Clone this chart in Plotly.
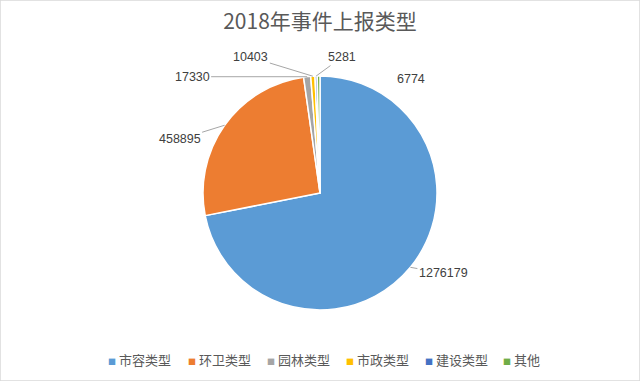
import math
import plotly.graph_objects as go

# ---- data ----
categories = ["市容类型", "环卫类型", "园林类型", "市政类型", "建设类型", "其他"]
values = [1276179, 458895, 17330, 10403, 5281, 6774]
title_text = "2018年事件上报类型"

# ---- style ----
colors = ["#5B9BD5", "#ED7D31", "#A5A5A5", "#FFC000", "#4472C4", "#70AD47"]
W, H = 640, 381
CX, CY, R = 320, 193, 117          # pie centre / radius in pixels
label_offsets = [(33, 6), (-45, 14), (-115, 0), (-62, -19), (26, -19), (92, -6)]
label_lines = [True, True, True, True, True, False]
legend_x = [106, 186, 265, 344, 423, 501]
legend_y = 359

fig = go.Figure(go.Pie(
    labels=categories, values=values, sort=False, direction="clockwise",
    rotation=0, textinfo="none", hoverinfo="label+value",
    marker=dict(colors=colors, line=dict(color="white", width=1.5)),
    domain=dict(x=[(CX - R) / W, (CX + R) / W], y=[1 - (CY + R) / H, 1 - (CY - R) / H]),
    showlegend=False,
))

annotations = []
total = sum(values)
cum = 0.0
for v, (ax, ay), line in zip(values, label_offsets, label_lines):
    mid = (cum + v / 2) / total * 2 * math.pi
    cum += v
    px = CX + R * math.sin(mid)
    py = CY - R * math.cos(mid)
    a = dict(x=px / W, y=1 - py / H, xref="paper", yref="paper",
             text=f"{v}", font=dict(family="Liberation Sans", size=12.5, color="#404040"))
    if line:
        a.update(showarrow=True, ax=ax, ay=ay, arrowhead=0, arrowwidth=1,
                 arrowcolor="#A6A6A6", standoff=0, startstandoff=0)
    else:
        a.update(showarrow=False, xshift=ax, yshift=-ay)
    annotations.append(a)

for name, c, lx in zip(categories, colors, legend_x):
    annotations.append(dict(
        x=lx / W, y=1 - legend_y / H, xref="paper", yref="paper", xanchor="left", yanchor="middle",
        showarrow=False,
        text=f'<span style="color:{c};font-size:8px">■</span> {name}',
        font=dict(family="Noto Sans CJK SC", size=13, color="#595959"),
    ))

fig.update_layout(
    width=W, height=H, margin=dict(l=0, r=0, t=0, b=0),
    paper_bgcolor="white", plot_bgcolor="white",
    title=dict(text=title_text, x=0.5, xanchor="center", y=1 - 22 / H, yanchor="middle",
               font=dict(family="Noto Sans CJK SC", size=21, color="#595959")),
    annotations=annotations,
    shapes=[dict(type="rect", xref="paper", yref="paper", x0=0, y0=0, x1=1, y1=1,
                 line=dict(color="#D9D9D9", width=1.5))],
)

fig.write_html("out.html")
